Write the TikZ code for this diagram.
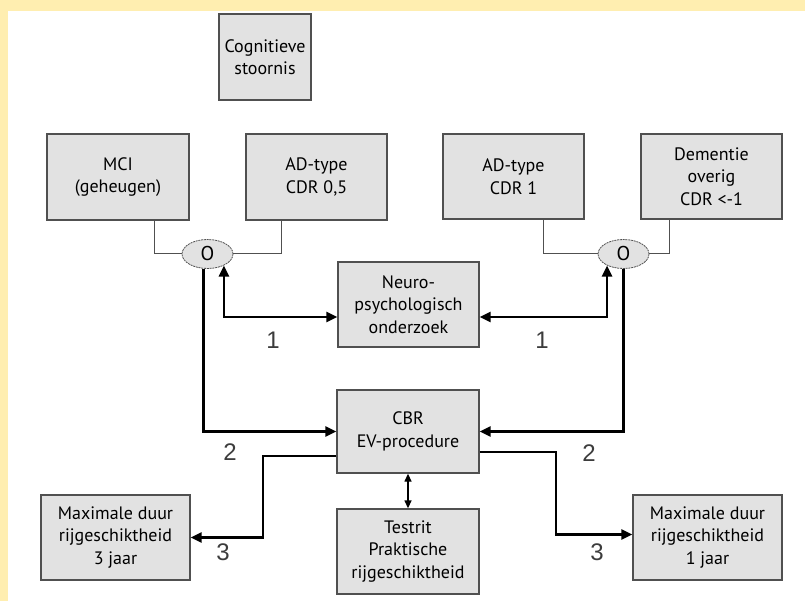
\documentclass[tikz,border=0pt]{standalone}
\usepackage{fontspec}
\setmainfont{PT Sans}
\newfontfamily\cijferfont{Liberation Sans}
\usetikzlibrary{arrows.meta,shapes.geometric}
\definecolor{blokgrijs}{HTML}{E2E2E2}
\definecolor{randgrijs}{HTML}{505050}
\definecolor{kadergeel}{HTML}{FFEEB0}
\definecolor{cijfergrijs}{HTML}{3C3C3C}
\tikzset{
  blok/.style={draw=randgrijs, line width=1.3pt, fill=blokgrijs, align=center,
    inner sep=0pt, font=\fontsize{18}{22.5}\selectfont},
  ofbol/.style={ellipse, draw=randgrijs, line width=0.8pt, dash pattern=on 2pt off 0.8pt,
    fill=blokgrijs, minimum width=51pt, minimum height=29pt, inner sep=0pt,
    font=\fontsize{20}{22}\selectfont},
  tak/.style={draw=randgrijs, line width=1pt},
  pijl/.style={line width=2.2pt},
  cijfer/.style={text=cijfergrijs, font=\cijferfont\fontsize{24}{24}\selectfont}
}

\begin{document}
\begin{tikzpicture}[x=1pt, y=-1pt, >={Triangle[length=11pt,width=10pt]}]
  \useasboundingbox (0,0) rectangle (805,601);%
  % kader
  \fill[kadergeel] (0,0) rectangle (805,11);%
  \fill[kadergeel] (0,0) rectangle (8,601);%

  % bovenste rij
  \node[blok, minimum width=92pt, minimum height=86pt] (cog) at (265,57) {Cognitieve\\stoornis};%
  \node[blok, minimum width=142pt, minimum height=86pt] (mci) at (118,177) {MCI\\(geheugen)};%
  \node[blok, minimum width=141pt, minimum height=86pt] (adhalf) at (316.5,177) {AD-type\\CDR 0,5};%
  \node[blok, minimum width=141pt, minimum height=85pt] (adeen) at (513.5,176.5) {AD-type\\CDR 1};%
  \node[blok, minimum width=141pt, minimum height=85pt] (dem) at (711.5,176.5) {Dementie\\overig\\CDR <-1};%

  % of-knopen
  \node[ofbol] (ofL) at (207.5,254) {O};%
  \node[ofbol] (ofR) at (623.5,254) {O};%
  \draw[tak] ([xshift=36pt]mci.south) |- (ofL.west);%
  \draw[tak] ([xshift=-35.5pt]adhalf.south) |- (ofL.east);%
  \draw[tak] ([xshift=29.5pt]adeen.south) |- (ofR.west);%
  \draw[tak] ([xshift=-42.5pt]dem.south) |- (ofR.east);%

  % midden
  \node[blok, minimum width=141pt, minimum height=85pt] (neuro) at (408.5,304.5) {Neuro-\\psychologisch\\onderzoek};%
  \node[blok, minimum width=142pt, minimum height=83pt] (cbr) at (408,431.5) {CBR\\EV-procedure};%
  \node[blok, minimum width=142pt, minimum height=85pt] (test) at (408,551.5) {Testrit\\Praktische\\rijgeschiktheid};%

  % onderste rij
  \node[blok, minimum width=149pt, minimum height=85pt] (maxdrie) at (115.5,537.5) {Maximale duur\\rijgeschiktheid\\3 jaar};%
  \node[blok, minimum width=149pt, minimum height=85pt] (maxeen) at (707.5,537.5) {Maximale duur\\rijgeschiktheid\\1 jaar};%

  % 1: neuropsychologisch onderzoek
  \draw[pijl, <->] (ofL.-35) |- ([yshift=-12.5pt]neuro.west);%
  \draw[pijl, <->] (ofR.-145) |- ([yshift=-12.5pt]neuro.east);%
  \node[cijfer] (een1) at (273,340) {1};%
  \node[cijfer] (een2) at (542,340) {1};%

  % 2: naar CBR
  \draw[pijl, ->] ([xshift=-4pt]ofL.south) |- (cbr.west);%
  \draw[pijl, ->] (ofR.south) |- (cbr.east);%
  \node[cijfer] (twee1) at (230,452) {2};%
  \node[cijfer] (twee2) at (589,453) {2};%

  % 3: maximale duur
  \coordinate (knikL) at (263,456);%
  \coordinate (knikR) at (556,452);%
  \draw[pijl, ->] ([yshift=-24.5pt]cbr.west) -- (knikL) |- (maxdrie.east);%
  \draw[pijl, ->] ([yshift=-20.5pt]cbr.east) -- (knikR) |- ([yshift=3pt]maxeen.west);%
  \node[cijfer] (drie1) at (223,552) {3};%
  \node[cijfer] (drie2) at (597,552) {3};%

  % testrit
  \draw[line width=1.3pt, {Triangle[length=8pt,width=7pt]}-{Triangle[length=8pt,width=7pt]}] (cbr.south) -- (test.north);%
\end{tikzpicture}
\end{document}
